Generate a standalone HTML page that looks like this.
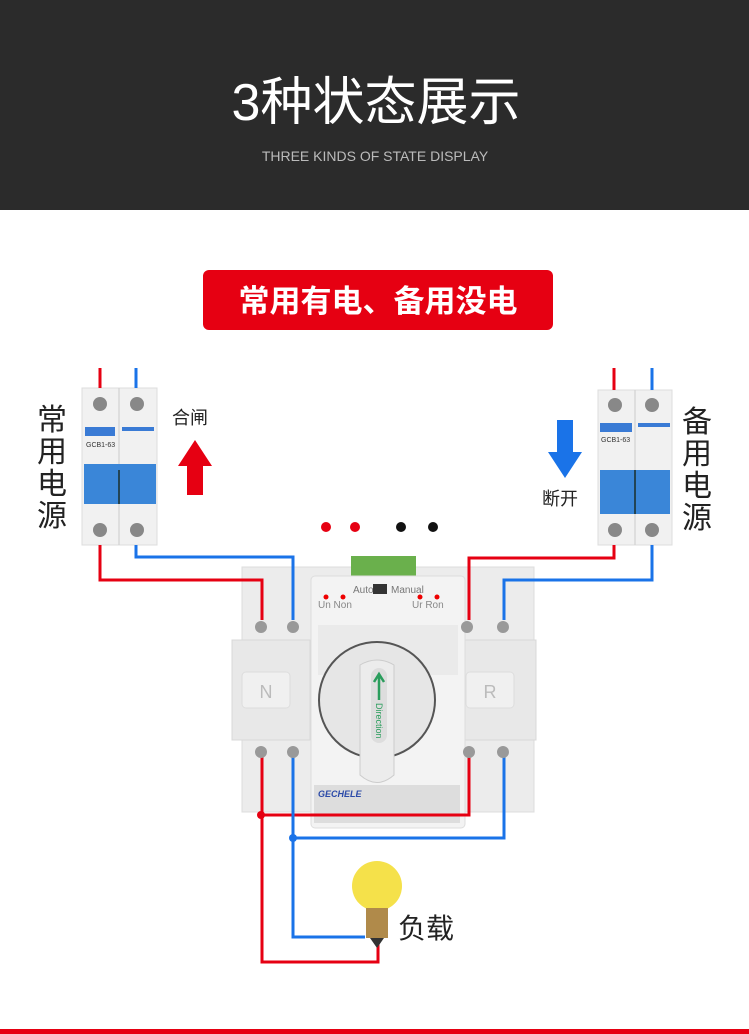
<!DOCTYPE html><html><head><meta charset="utf-8"><style>body{margin:0;width:749px;height:1034px;overflow:hidden;background:#fff;font-family:"Liberation Sans","Noto Sans CJK SC",sans-serif}</style></head><body>
<svg width="749" height="1034" xmlns="http://www.w3.org/2000/svg" style="display:block">
<rect width="749" height="210" fill="#2b2b2b"/>
<text x="376" y="120" fill="#fff" font-size="52" text-anchor="middle" font-family="Liberation Sans,Noto Sans CJK SC,sans-serif">3种状态展示</text>
<text x="375" y="161" fill="#bbb" font-size="14" text-anchor="middle" font-family="Liberation Sans,sans-serif">THREE KINDS OF STATE DISPLAY</text>
<rect x="203" y="270" width="350" height="60" rx="6" fill="#e60012"/>
<text x="378" y="312" fill="#fff" font-size="31" font-weight="bold" text-anchor="middle" font-family="Noto Sans CJK SC,sans-serif">常用有电、备用没电</text>
<g font-family="Noto Sans CJK SC,sans-serif" font-size="30" fill="#222" text-anchor="middle">
<text x="52" y="430">常</text><text x="52" y="462">用</text><text x="52" y="494">电</text><text x="52" y="526">源</text>
<text x="697" y="432">备</text><text x="697" y="464">用</text><text x="697" y="496">电</text><text x="697" y="528">源</text>
</g>
<text x="172" y="424" font-size="18" fill="#222" font-family="Noto Sans CJK SC,sans-serif">合闸</text>
<polygon points="195,440 212,466 203,466 203,495 187,495 187,466 178,466" fill="#e60012"/>
<text x="542" y="505" font-size="18" fill="#222" font-family="Noto Sans CJK SC,sans-serif">断开</text>
<polygon points="565,478 582,452 573,452 573,420 557,420 557,452 548,452" fill="#1a73e8"/>
<!-- breakers -->
<g>
<rect x="82" y="388" width="75" height="157" fill="#f1f1f1" stroke="#ddd"/>
<line x1="119" y1="388" x2="119" y2="545" stroke="#ccc"/>
<circle cx="100" cy="404" r="7" fill="#888"/><circle cx="137" cy="404" r="7" fill="#888"/>
<circle cx="100" cy="530" r="7" fill="#888"/><circle cx="137" cy="530" r="7" fill="#888"/>
<rect x="85" y="427" width="30" height="9" fill="#3a7bd5"/><rect x="122" y="427" width="32" height="4" fill="#3a7bd5"/>
<text x="86" y="447" font-size="7" fill="#333">GCB1-63</text>
<rect x="84" y="464" width="72" height="40" fill="#3a86d8"/>
<line x1="119" y1="470" x2="119" y2="504" stroke="#245" stroke-width="2"/>
</g>
<g>
<rect x="598" y="390" width="74" height="155" fill="#f1f1f1" stroke="#ddd"/>
<line x1="635" y1="390" x2="635" y2="545" stroke="#ccc"/>
<circle cx="615" cy="405" r="7" fill="#888"/><circle cx="652" cy="405" r="7" fill="#888"/>
<circle cx="615" cy="530" r="7" fill="#888"/><circle cx="652" cy="530" r="7" fill="#888"/>
<rect x="600" y="423" width="32" height="9" fill="#3a7bd5"/><rect x="638" y="423" width="32" height="4" fill="#3a7bd5"/>
<text x="601" y="442" font-size="7" fill="#333">GCB1-63</text>
<rect x="600" y="470" width="70" height="44" fill="#3a86d8"/>
<line x1="635" y1="470" x2="635" y2="514" stroke="#245" stroke-width="2"/>
</g>
<circle cx="326" cy="527" r="5" fill="#e60012"/><circle cx="355" cy="527" r="5" fill="#e60012"/>
<circle cx="401" cy="527" r="5" fill="#111"/><circle cx="433" cy="527" r="5" fill="#111"/>
<!-- switch -->
<rect x="242" y="567" width="292" height="245" fill="#ececec" stroke="#ddd"/>
<rect x="351" y="556" width="65" height="20" fill="#6ab04c"/>
<rect x="232" y="640" width="78" height="100" fill="#e8e8e8" stroke="#d8d8d8"/>
<rect x="464" y="640" width="72" height="100" fill="#e8e8e8" stroke="#d8d8d8"/>
<rect x="242" y="672" width="48" height="36" rx="4" fill="#f0f0f0" stroke="#ddd"/>
<text x="266" y="698" font-size="18" fill="#bbb" text-anchor="middle">N</text>
<rect x="466" y="672" width="48" height="36" rx="4" fill="#f0f0f0" stroke="#ddd"/>
<text x="490" y="698" font-size="18" fill="#bbb" text-anchor="middle">R</text>
<rect x="311" y="576" width="154" height="252" rx="4" fill="#f3f3f3" stroke="#ddd"/>
<text x="353" y="593" font-size="10" fill="#777">Auto</text><rect x="373" y="584" width="14" height="10" fill="#333"/><text x="391" y="593" font-size="10" fill="#777">Manual</text>
<text x="318" y="608" font-size="10" fill="#888">Un Non</text><text x="412" y="608" font-size="10" fill="#888">Ur Ron</text>
<circle cx="326" cy="597" r="2.5" fill="#e00"/><circle cx="343" cy="597" r="2.5" fill="#e00"/><circle cx="420" cy="597" r="2.5" fill="#e00"/><circle cx="437" cy="597" r="2.5" fill="#e00"/>
<rect x="318" y="625" width="140" height="50" fill="#eaeaea"/>
<circle cx="377" cy="700" r="58" fill="#e6e6e6" stroke="#555" stroke-width="2"/>
<path d="M360 665Q377 655 394 665V775Q377 790 360 775Z" fill="#ececec" stroke="#ccc"/>
<rect x="371" y="668" width="16" height="75" rx="8" fill="#ddd"/>
<path d="M379 700V675M374 682L379 674L384 682" stroke="#2a9d5c" stroke-width="2.5" fill="none"/>
<text x="0" y="0" font-size="9" fill="#2a9d5c" transform="translate(376,703) rotate(90)">Direction</text>
<rect x="314" y="785" width="146" height="38" fill="#ddd"/>
<text x="318" y="797" font-size="9" font-weight="bold" font-style="italic" fill="#2b4aa8">GECHELE</text>
<g fill="none" stroke-width="3">
<path d="M100 368V388M100 545V580H262V620M262 752V962H378V940M261 815H469V752M469 620V558H614V545M614 368V390" stroke="#e60012"/>
<path d="M136 368V388M136 545V557H293V620M293 752V937H365M293 838H504V752M504 620V580H652V545M652 368V390" stroke="#1a73e8"/>
</g>
<g fill="#999"><circle cx="261" cy="627" r="6"/><circle cx="293" cy="627" r="6"/><circle cx="467" cy="627" r="6"/><circle cx="503" cy="627" r="6"/>
<circle cx="261" cy="752" r="6"/><circle cx="293" cy="752" r="6"/><circle cx="469" cy="752" r="6"/><circle cx="503" cy="752" r="6"/></g>
<circle cx="261" cy="815" r="4" fill="#e60012"/><circle cx="293" cy="838" r="4" fill="#1a73e8"/>
<!-- bulb -->
<circle cx="377" cy="886" r="25" fill="#f5e14a"/>
<rect x="366" y="908" width="22" height="30" fill="#b08a4a"/>
<path d="M370 938L377 948L384 938Z" fill="#333"/>
<text x="398" y="938" font-size="28" fill="#222" font-family="Noto Sans CJK SC,sans-serif">负载</text>
<rect x="0" y="1029" width="749" height="5" fill="#e60012"/>
</svg></body></html>
